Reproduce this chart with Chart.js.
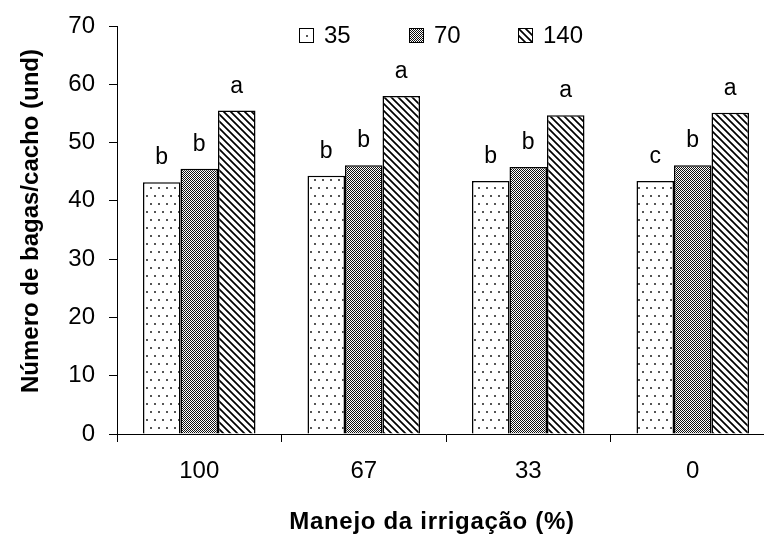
<!DOCTYPE html>
<html>
<head>
<meta charset="utf-8">
<script src="https://cdn.jsdelivr.net/npm/chart.js@4/dist/chart.umd.min.js"></script>
<style>
  html, body { margin: 0; padding: 0; background: #fff; overflow: hidden; }
  #wrap { width: 776px; height: 539px; }
</style>
</head>
<body>
<div id="wrap"><canvas id="c" width="776" height="539"></canvas></div>
<script>
// ---- data ----
const categories = ['100', '67', '33', '0'];
const seriesLabels = ['35', '70', '140'];
const values35 = [43.2, 44.3, 43.4, 43.4];
const values70 = [45.5, 46.1, 45.8, 46.1];
const values140 = [55.5, 58.0, 54.7, 55.1];
const letters35 = ['b', 'b', 'b', 'c'];
const letters70 = ['b', 'b', 'b', 'b'];
const letters140 = ['a', 'a', 'a', 'a'];
const yMin = 0, yMax = 70, yStep = 10;
const xTitle = 'Manejo da irrigação (%)';
const yTitle = 'Número de bagas/cacho (und)';

const FONT = '"Liberation Sans", Arial, sans-serif';

// ---- patterns ----
function makeTile(w, h, draw) {
  const c = document.createElement('canvas');
  c.width = w; c.height = h;
  const g = c.getContext('2d');
  draw(g, w, h);
  return document.getElementById('c').getContext('2d').createPattern(c, 'repeat');
}
const patDots = makeTile(8, 16, (g, w, h) => {
  g.fillStyle = '#fff'; g.fillRect(0, 0, w, h);
  g.fillStyle = '#555';
  g.fillRect(2, 3, 2, 2);
  g.fillRect(6, 11, 2, 2);
});
const patChecker = makeTile(2, 2, (g, w, h) => {
  g.fillStyle = '#fff'; g.fillRect(0, 0, w, h);
  g.fillStyle = '#111'; g.fillRect(0, 0, 1, 1); g.fillRect(1, 1, 1, 1);
});
const patStripes = makeTile(7, 7, (g, w, h) => {
  g.fillStyle = '#fff'; g.fillRect(0, 0, w, h);
  g.strokeStyle = '#000'; g.lineWidth = 1.7;
  g.beginPath();
  g.moveTo(-1, -1); g.lineTo(w + 1, h + 1);
  g.moveTo(-1 - w, -1); g.lineTo(1, h + 1);
  g.moveTo(w - 1, -1 - h); g.lineTo(w + 1 + w, h + 1);
  g.moveTo(-1, -1 - h); g.lineTo(w + 1, 1);
  g.moveTo(-1, h - 1); g.lineTo(w + 1, 2 * h + 1);
  g.stroke();
});
const patterns = [patDots, patChecker, patStripes];
const letterSets = [letters35, letters70, letters140];

// ---- custom drawing: legend, letters, axis titles ----
const extras = {
  id: 'extras',
  afterDatasetsDraw(chart) {
    const ctx = chart.ctx;
    ctx.save();
    // letters above bars
    ctx.fillStyle = '#000';
    ctx.font = '23px ' + FONT;
    ctx.textAlign = 'center';
    ctx.textBaseline = 'alphabetic';
    chart.data.datasets.forEach((ds, di) => {
      const meta = chart.getDatasetMeta(di);
      meta.data.forEach((bar, i) => {
        ctx.fillText(letterSets[di][i], bar.x, bar.y - 18);
      });
    });
    // legend
    const boxX = [299, 409, 518];
    ctx.font = '24px ' + FONT;
    ctx.textAlign = 'left';
    chart.data.datasets.forEach((ds, di) => {
      const x = boxX[di], y = 28, s = 15;
      ctx.fillStyle = patterns[di];
      ctx.fillRect(x, y, s, s);
      ctx.strokeStyle = '#000';
      ctx.lineWidth = 1;
      ctx.strokeRect(x + 0.5, y + 0.5, s - 1, s - 1);
      ctx.fillStyle = '#000';
      ctx.fillText(ds.label, x + 25, 43);
    });
    // axis titles
    ctx.font = 'bold 24px ' + FONT;
    ctx.textAlign = 'center';
    ctx.textBaseline = 'middle';
    ctx.save();
    ctx.translate(31, 221);
    ctx.rotate(-Math.PI / 2);
    ctx.fillText(yTitle, 0, 0);
    ctx.restore();
    try { ctx.letterSpacing = '0.7px'; } catch (e) {}
    ctx.fillText(xTitle, 432, 522);
    ctx.restore();
  }
};

const data = {
  labels: categories,
  datasets: [values35, values70, values140].map((vals, i) => ({
    label: seriesLabels[i],
    data: vals,
    backgroundColor: patterns[i],
    borderColor: '#000',
    borderWidth: 1.5,
    borderSkipped: 'start',
    categoryPercentage: 0.684,
    barPercentage: 1.0
  }))
};

new Chart(document.getElementById('c'), {
  type: 'bar',
  data,
  options: {
    responsive: false,
    animation: false,
    devicePixelRatio: 1,
    layout: { padding: { top: 26, right: 1, left: 0, bottom: 0 } },
    plugins: { legend: { display: false }, tooltip: { enabled: false } },
    scales: {
      x: {
        afterFit(scale) { scale.height = 105; },
        grid: { display: true, drawOnChartArea: false, drawTicks: true, tickLength: 8, color: '#000', lineWidth: 1, offset: true },
        border: { display: true, color: '#000', width: 1 },
        ticks: { color: '#000', font: { family: FONT, size: 24 }, padding: 15, maxRotation: 0, autoSkip: false }
      },
      y: {
        min: yMin, max: yMax,
        afterFit(scale) { scale.width = 117; scale.paddingTop = 10; scale.paddingBottom = 10; },
        grid: { display: true, drawOnChartArea: false, drawTicks: true, tickLength: 8, color: '#000', lineWidth: 1 },
        border: { display: true, color: '#000', width: 1 },
        ticks: { stepSize: yStep, color: '#000', font: { family: FONT, size: 24 }, padding: 14 }
      }
    }
  },
  plugins: [extras]
});
</script>
</body>
</html>
